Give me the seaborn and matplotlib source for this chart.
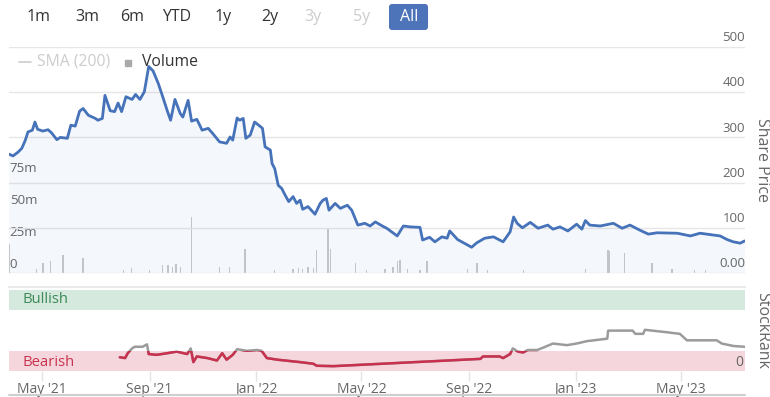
import pandas as pd
import seaborn as sns
import matplotlib.pyplot as plt
import matplotlib.transforms as mtransforms
from matplotlib.lines import Line2D
from matplotlib.patches import Rectangle, FancyBboxPatch

# share price (p)
price_dates = [
    "2021-03-24", "2021-03-29", "2021-04-04", "2021-04-08", "2021-04-12", "2021-04-15",
    "2021-04-20", "2021-04-23", "2021-04-26", "2021-05-02", "2021-05-08", "2021-05-12",
    "2021-05-18", "2021-05-22", "2021-05-30", "2021-06-03", "2021-06-08", "2021-06-13",
    "2021-06-17", "2021-06-23", "2021-07-01", "2021-07-04", "2021-07-09", "2021-07-12",
    "2021-07-18", "2021-07-23", "2021-07-27", "2021-07-31", "2021-08-05", "2021-08-12",
    "2021-08-16", "2021-08-21", "2021-08-26", "2021-08-31", "2021-09-05", "2021-09-11",
    "2021-09-16", "2021-09-21", "2021-09-25", "2021-09-30", "2021-10-06", "2021-10-09",
    "2021-10-15", "2021-10-19", "2021-10-25", "2021-10-31", "2021-11-07", "2021-11-12",
    "2021-11-20", "2021-11-28", "2021-12-02", "2021-12-05", "2021-12-10", "2021-12-13",
    "2021-12-17", "2021-12-20", "2021-12-25", "2021-12-30", "2022-01-05", "2022-01-08",
    "2022-01-11", "2022-01-17", "2022-01-19", "2022-01-22", "2022-01-26", "2022-01-30",
    "2022-02-03", "2022-02-07", "2022-02-12", "2022-02-16", "2022-02-20", "2022-02-23",
    "2022-03-01", "2022-03-09", "2022-03-15", "2022-03-18", "2022-03-22", "2022-03-25",
    "2022-04-01", "2022-04-07", "2022-04-15", "2022-04-20", "2022-04-27", "2022-05-05",
    "2022-05-11", "2022-05-17", "2022-05-25", "2022-05-30", "2022-06-11", "2022-06-18",
    "2022-06-26", "2022-07-07", "2022-07-10", "2022-07-18", "2022-07-24", "2022-08-01",
    "2022-08-07", "2022-08-10", "2022-08-19", "2022-09-04", "2022-09-10", "2022-09-19",
    "2022-09-29", "2022-10-10", "2022-10-18", "2022-10-22", "2022-10-26", "2022-11-01",
    "2022-11-10", "2022-11-19", "2022-11-30", "2022-12-06", "2022-12-14", "2022-12-23",
    "2023-01-02", "2023-01-08", "2023-01-12", "2023-01-17", "2023-01-29", "2023-02-13",
    "2023-02-23", "2023-03-04", "2023-03-15", "2023-03-25", "2023-04-04", "2023-04-27",
    "2023-05-12", "2023-05-23", "2023-06-15", "2023-06-23", "2023-06-30", "2023-07-08",
    "2023-07-13",
]
price_values = [
    263, 259, 268, 276, 294, 312, 316, 334, 318, 314, 317, 310,
    295, 300, 298, 327, 325, 358, 364, 349, 342, 338, 342, 393,
    359, 357, 376, 357, 390, 384, 395, 384, 401, 457, 447, 419,
    390, 360, 338, 384, 353, 345, 382, 336, 340, 316, 320, 309,
    290, 287, 301, 294, 343, 338, 342, 298, 305, 334, 325, 320,
    279, 272, 242, 231, 194, 187, 172, 158, 169, 154, 161, 141,
    147, 130, 154, 161, 165, 139, 154, 143, 150, 139, 106, 110,
    104, 113, 104, 99, 82, 104, 102, 101, 73, 79, 69, 80,
    77, 93, 74, 57, 67, 77, 80, 69, 91, 124, 110, 100,
    112, 99, 106, 97, 102, 93, 108, 97, 116, 106, 104, 110,
    99, 106, 95, 86, 89, 88, 82, 88, 82, 74, 69, 66,
    71,
]

# volume (millions)
volume_dates = [
    "2021-03-24", "2021-03-25", "2021-04-25", "2021-05-02", "2021-05-11", "2021-05-25",
    "2021-06-17", "2021-08-02", "2021-08-11", "2021-09-01", "2021-09-16", "2021-09-22",
    "2021-09-27", "2021-10-01", "2021-10-06", "2021-10-19", "2021-11-20", "2021-12-01",
    "2021-12-19", "2022-01-22", "2022-02-12", "2022-02-18", "2022-02-23", "2022-03-01",
    "2022-03-07", "2022-03-11", "2022-03-24", "2022-03-27", "2022-04-24", "2022-05-07",
    "2022-05-28", "2022-06-06", "2022-06-11", "2022-06-14", "2022-06-23", "2022-07-07",
    "2022-07-15", "2022-08-30", "2022-09-10", "2022-09-22", "2022-11-02", "2023-01-12",
    "2023-02-07", "2023-02-08", "2023-02-26", "2023-03-29", "2023-04-21", "2023-05-17",
    "2023-05-29",
]
volume_values = [
    69, 23, 3, 8, 9, 14,
    12, 2, 4, 2, 6, 6,
    5, 7, 5, 44, 5, 5,
    19, 2, 3, 4, 3, 5,
    4, 18, 34, 19, 8, 2,
    3, 5, 9, 10, 3, 2,
    9, 3, 8, 2, 2, 3,
    18, 17, 16, 8, 3, 2,
    2,
]

# StockRank
rank_dates = [
    "2021-07-29", "2021-08-04", "2021-08-07", "2021-08-12", "2021-08-15", "2021-08-24",
    "2021-08-29", "2021-08-31", "2021-09-09", "2021-09-21", "2021-10-02", "2021-10-14",
    "2021-10-18", "2021-10-21", "2021-10-25", "2021-11-06", "2021-11-17", "2021-11-23",
    "2021-11-28", "2021-12-05", "2021-12-10", "2021-12-21", "2022-01-02", "2022-01-07",
    "2022-01-13", "2022-01-25", "2022-02-20", "2022-03-07", "2022-03-11", "2022-03-30",
    "2022-09-14", "2022-09-17", "2022-10-06", "2022-10-10", "2022-10-18", "2022-10-21",
    "2022-10-27", "2022-11-02", "2022-11-07", "2022-11-18", "2022-11-25", "2022-12-06",
    "2022-12-22", "2023-01-02", "2023-01-14", "2023-02-06", "2023-02-07", "2023-03-07",
    "2023-03-10", "2023-03-19", "2023-03-21", "2023-04-15", "2023-04-30", "2023-05-08",
    "2023-06-11", "2023-06-17", "2023-06-30", "2023-07-13",
]
rank_values = [
    17, 16, 22, 28, 30, 30,
    33, 21, 20, 22, 24, 21,
    28, 11, 18, 16, 13, 22,
    14, 20, 27, 25, 26, 25,
    16, 14, 11, 9, 6.5, 6,
    15, 18, 18, 16, 21, 28,
    24, 23, 26, 26, 29, 34,
    32, 34, 37, 40, 50, 50,
    46, 46, 51, 48, 46, 38,
    38, 34, 31, 30,
]

range_buttons = ["1m", "3m", "6m", "YTD", "1y", "2y", "3y", "5y", "All"]
price_ticks = [0, 100, 200, 300, 400, 500]
volume_ticks = [0, 25, 50, 75]
month_ticks = ["2021-05-01", "2021-09-01", "2022-01-01", "2022-05-01",
               "2022-09-01", "2023-01-01", "2023-05-01"]
month_labels = ["May '21", "Sep '21", "Jan '22", "May '22",
                "Sep '22", "Jan '23", "May '23"]

W, H = 770, 397
BLUE = "#4572b8"
GRID = "#e6e6e6"
TICK = "#666666"


def fx(x):
    return x / W


def fy(y):
    return 1 - y / H


def main():
    sns.set_theme(style="white")
    plt.rcParams["font.family"] = ["Open Sans", "DejaVu Sans"]

    price = pd.DataFrame({"date": pd.to_datetime(price_dates), "price": price_values})
    vol = pd.DataFrame({"date": pd.to_datetime(volume_dates), "volume": volume_values})
    rank = pd.DataFrame({"date": pd.to_datetime(rank_dates), "rank": rank_values})
    xlim = (pd.Timestamp("2021-03-24 08:00"), pd.Timestamp("2023-07-13 10:00"))

    fig = plt.figure(figsize=(W / 100, H / 100), dpi=100)

    # volume underneath, price on top
    rect = [fx(9), fy(273), fx(745) - fx(9), (273 - 47) / H]
    ax_vol = fig.add_axes(rect)
    ax_vol.bar(vol["date"], vol["volume"], width=1.6, color="#c9c9c9", linewidth=0)
    ax_vol.set_ylim(0, 226 / 32 * 25)
    ax_vol.set_xlim(xlim)

    ax = ax_vol.twinx()
    ax.patch.set_visible(False)
    for p in price_ticks:
        ax.axhline(p, color=GRID, lw=1, zorder=0)
    ax.fill_between(price["date"], price["price"], color=BLUE, alpha=0.055, lw=0)
    sns.lineplot(data=price, x="date", y="price", ax=ax, color=BLUE, linewidth=2)
    ax.set_ylim(0, 500)
    ax.set_xlim(xlim)

    for a in (ax, ax_vol):
        a.set_xticks([])
        a.set_yticks([])
        a.set_xlabel("")
        a.set_ylabel("")
        for s in a.spines.values():
            s.set_visible(False)

    right = mtransforms.blended_transform_factory(ax.transAxes, ax.transData)
    off = mtransforms.offset_copy(right, fig=fig, y=2, units="points")
    for p in price_ticks:
        lab = "0.00" if p == 0 else str(p)
        ax.text(1.0, p, lab, transform=off, ha="right", va="bottom",
                color=TICK, fontsize=9.5)

    left = mtransforms.blended_transform_factory(ax_vol.transAxes, ax_vol.transData)
    offl = mtransforms.offset_copy(left, fig=fig, y=1.5, units="points")
    for v in volume_ticks:
        lab = "0" if v == 0 else f"{v}m"
        ax_vol.text(0.001, v, lab, transform=offl, ha="left", va="bottom",
                    color=TICK, fontsize=9.5)

    fig.text(fx(762), fy(160), "Share Price", rotation=270, ha="center", va="center",
             color=TICK, fontsize=11.5)

    # StockRank panel
    ax_r = fig.add_axes([fx(9), fy(371), fx(745) - fx(9), (371 - 287) / H])
    ax_r.axhspan(75, 100, color="#d6e9de", lw=0, zorder=0)
    ax_r.axhspan(0, 25, color="#f5d6dd", lw=0, zorder=0)
    sns.lineplot(data=rank, x="date", y="rank", ax=ax_r, color="#9b9b9b", linewidth=1.8)
    red, = ax_r.plot(rank["date"], rank["rank"], color="#c8304e", lw=1.8)
    clip_tr = mtransforms.blended_transform_factory(ax_r.transAxes, ax_r.transData)
    clip = Rectangle((0, -20), 1, 45, transform=clip_tr)
    red.set_clip_path(clip)
    ax_r.set_ylim(0, 104)
    ax_r.set_xlim(xlim)
    ax_r.set_yticks([])
    ax_r.set_xlabel("")
    ax_r.set_ylabel("")
    ax_r.set_xticks(pd.to_datetime(month_ticks))
    ax_r.set_xticklabels(month_labels)
    ax_r.tick_params(axis="x", bottom=True, direction="out", length=7, width=1,
                     color="#e3e3e3", labelcolor=TICK, labelsize=10, pad=1)
    for name, s in ax_r.spines.items():
        s.set_visible(name == "top")
    ax_r.spines["top"].set_color("#e6e6e6")
    ax_r.spines["top"].set_linewidth(1.2)

    ax_r.text(0.018, 88, "Bullish", transform=clip_tr, ha="left", va="center",
              color="#3c8a55", fontsize=10.7)
    ax_r.text(0.018, 11, "Bearish", transform=clip_tr, ha="left", va="center",
              color="#c8344f", fontsize=10.7)
    ax_r.text(0.997, 11, "0", transform=clip_tr, ha="right", va="center",
              color=TICK, fontsize=10)
    fig.text(fx(762), fy(330), "StockRank", rotation=270, ha="center", va="center",
             color=TICK, fontsize=11.5)

    fig.add_artist(Line2D([fx(9), fx(745)], [fy(395), fy(395)], color="#cfcfcf", lw=1.5))

    # range selector buttons
    btn_x = [39, 87, 132, 177, 223, 270, 313, 362, 409]
    for lab, x in zip(range_buttons, btn_x):
        col = "#333333"
        if lab in ("3y", "5y"):
            col = "#cccccc"
        if lab == "All":
            col = "white"
            fig.add_artist(FancyBboxPatch(
                (3.89, (H - 30) / 100), 0.39, 0.26,
                boxstyle="round,pad=0,rounding_size=0.03",
                transform=fig.dpi_scale_trans, fc="#4d74b8", ec="none"))
        fig.text(fx(x), fy(17), lab, ha="center", va="center", color=col,
                 fontsize=11.5, zorder=5)

    # legend
    fig.add_artist(Line2D([fx(19), fx(31)], [fy(62), fy(62)], color="#cccccc", lw=1.2))
    fig.text(fx(37), fy(62), "SMA (200)", ha="left", va="center", color="#cccccc",
             fontsize=11.3)
    fig.add_artist(Rectangle((fx(125), fy(66)), fx(6), 6 / H, color="#aaaaaa",
                             transform=fig.transFigure))
    fig.text(fx(142), fy(62), "Volume", ha="left", va="center", color="#333333",
             fontsize=11.3)

    fig.savefig("out.png", dpi=100)
    plt.close(fig)


if __name__ == "__main__":
    main()
